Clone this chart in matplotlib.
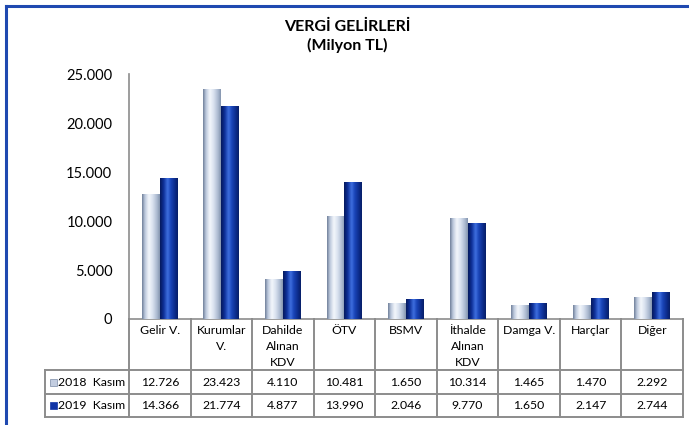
import numpy as np
import matplotlib
matplotlib.use("Agg")
import matplotlib.pyplot as plt
from matplotlib.patches import Rectangle
from matplotlib.colors import LinearSegmentedColormap
import matplotlib.transforms as mtransforms
from matplotlib.lines import Line2D

# ---- data ----
categories = ["Gelir V.", "Kurumlar\nV.", "Dahilde\nAlınan\nKDV", "ÖTV", "BSMV",
              "İthalde\nAlınan\nKDV", "Damga V.", "Harçlar", "Diğer"]
series_names = ["2018  Kasım", "2019  Kasım"]
vals_2018 = [12726, 23423, 4110, 10481, 1650, 10314, 1465, 1470, 2292]
vals_2019 = [14366, 21774, 4877, 13990, 2046, 9770, 1650, 2147, 2744]
yticks = [0, 5000, 10000, 15000, 20000, 25000]
title = "VERGİ GELİRLERİ\n(Milyon TL)"

plt.rcParams['font.family'] = ['Lato', 'DejaVu Sans']

W, H = 689, 425
fig = plt.figure(figsize=(W / 100, H / 100), dpi=100)

ax_l, ax_r, ax_t, ax_b = 129, 683, 74, 319
ax = fig.add_axes([ax_l / W, 1 - ax_b / H, (ax_r - ax_l) / W, (ax_b - ax_t) / H])
ax.set_xlim(-0.5, len(categories) - 0.5)
ax.set_ylim(0, 25000)

def fmt(v):
    return f"{v:,}".replace(",", ".")

bw = 0.29
x = np.arange(len(categories))

light_cmap = LinearSegmentedColormap.from_list("light", [
    (0.0, "#6f7f99"), (0.15, "#b9c6da"), (0.38, "#f4f7fc"), (0.6, "#d9e2ef"),
    (0.85, "#a9b8cf"), (1.0, "#8494ae")])
dark_cmap = LinearSegmentedColormap.from_list("dark", [
    (0.0, "#061a5c"), (0.2, "#0d2f98"), (0.42, "#3f70e0"), (0.6, "#1a45b8"),
    (0.85, "#0b2a88"), (1.0, "#071e66")])

grad = np.linspace(0, 1, 64).reshape(1, -1)
for vals, off, cmap in [(vals_2018, -bw / 2, light_cmap), (vals_2019, bw / 2, dark_cmap)]:
    bars = ax.bar(x + off, vals, width=bw, color="none", edgecolor="none", zorder=2)
    for b in bars:
        x0, w, h = b.get_x(), b.get_width(), b.get_height()
        im = ax.imshow(grad, cmap=cmap, extent=[x0, x0 + w, 0, h], aspect="auto",
                       interpolation="bicubic", zorder=3)
        im.set_clip_path(b)

ax.set_xlim(-0.5, len(categories) - 0.5)
ax.set_ylim(0, 25000)
ax.set_yticks(yticks)
ax.set_yticklabels([fmt(v) for v in yticks], fontsize=10.5)
ax.tick_params(axis="y", length=0, pad=12)
ax.set_xticks([])
for s in ["top", "right"]:
    ax.spines[s].set_visible(False)
ax.spines["left"].set_color("#8c8c8c")
ax.spines["bottom"].set_color("#8c8c8c")
ax.spines["left"].set_linewidth(1.2)
ax.spines["bottom"].set_linewidth(1.2)

# ---- data table ----
def ay(py):
    return (ax_b - py) / (ax_b - ax_t)

trans = mtransforms.blended_transform_factory(ax.transData, ax.transAxes)
gc = "#8c8c8c"
lw = 1.4
y_head_bot = ay(370)
y_r1_bot = ay(394)
y_r2_bot = ay(417)
left_x = -0.5 - (ax_l - 45) / ((ax_r - ax_l) / len(categories))
n = len(categories)

def hline(x0, x1, y):
    ax.add_line(Line2D([x0, x1], [y, y], color=gc, lw=lw, transform=trans, clip_on=False))

def vline(xx, y0, y1):
    ax.add_line(Line2D([xx, xx], [y0, y1], color=gc, lw=lw, transform=trans, clip_on=False))

hline(left_x, n - 0.5, y_head_bot)
hline(left_x, n - 0.5, y_r1_bot)
hline(left_x, n - 0.5, y_r2_bot)
for i in range(n + 1):
    vline(i - 0.5, 0, y_r2_bot)
vline(left_x, y_head_bot, y_r2_bot)

fs = 8.8
for i, c in enumerate(categories):
    ax.text(i, ay(325), c, transform=trans, ha="center", va="top", fontsize=fs,
            linespacing=1.55, clip_on=False)
    ax.text(i, (y_head_bot + y_r1_bot) / 2, fmt(vals_2018[i]), transform=trans,
            ha="center", va="center", fontsize=fs, clip_on=False)
    ax.text(i, (y_r1_bot + y_r2_bot) / 2, fmt(vals_2019[i]), transform=trans,
            ha="center", va="center", fontsize=fs, clip_on=False)

sq_colors = ["#c3cde0", "#1034a6"]
for k, (yb, yt) in enumerate([(y_r1_bot, y_head_bot), (y_r2_bot, y_r1_bot)]):
    yc = (yb + yt) / 2
    sqw = 7 / ((ax_r - ax_l) / n)
    sqh = 7 / (ax_b - ax_t)
    xs = left_x + 5 / ((ax_r - ax_l) / n)
    ax.add_patch(Rectangle((xs, yc - sqh / 2), sqw, sqh, transform=trans,
                           facecolor=sq_colors[k], edgecolor="#7a8aa5" if k == 0 else sq_colors[k],
                           lw=0.5, clip_on=False))
    ax.text(xs + sqw + 0.02, yc, series_names[k], transform=trans, ha="left", va="center",
            fontsize=fs, clip_on=False)

# title
fig.text(347 / W, 1 - 27 / H, "VERGİ GELİRLERİ", ha="center", va="center",
         fontsize=11.5, fontweight="bold")
fig.text(347 / W, 1 - 45 / H, "(Milyon TL)", ha="center", va="center",
         fontsize=11.5, fontweight="bold")

# blue frame
fig.add_artist(Line2D([6 / W, 6 / W], [0, 1 - 6 / H], color="#1f49b0", lw=2.2,
                      transform=fig.transFigure))
fig.add_artist(Line2D([6 / W, 1], [1 - 6 / H, 1 - 6 / H], color="#1f49b0", lw=2.2,
                      transform=fig.transFigure))

fig.savefig("out.png", dpi=100)
